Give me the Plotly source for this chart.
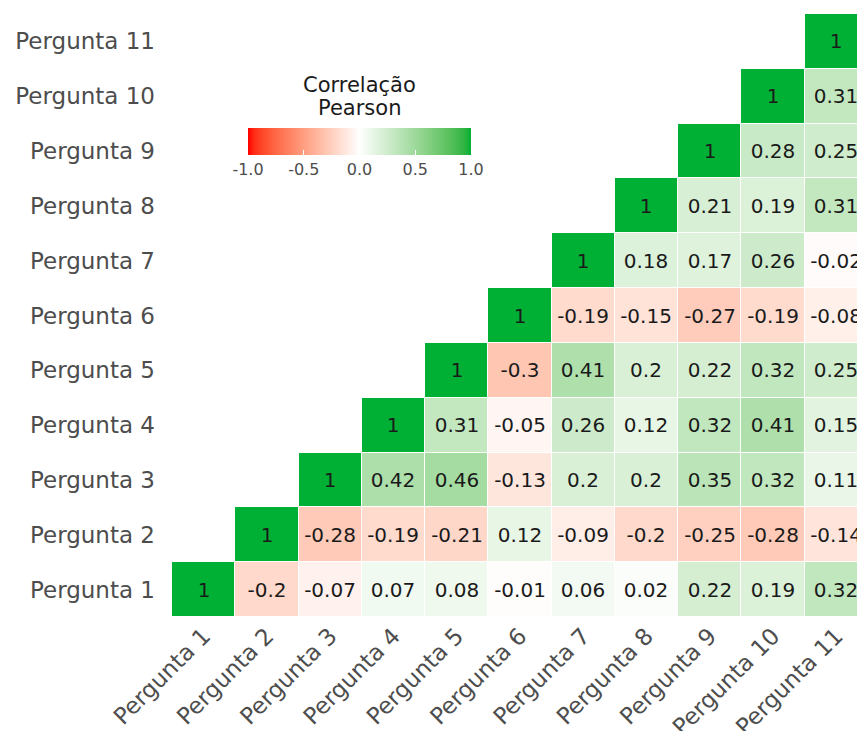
import plotly.graph_objects as go

# Questions on both axes
perguntas = [f"Pergunta {i}" for i in range(1, 12)]

# Upper-triangle Pearson correlations, one list per row (Pergunta 1..11),
# starting at the diagonal cell of that row
linha_1 = [1, -0.2, -0.07, 0.07, 0.08, -0.01, 0.06, 0.02, 0.22, 0.19, 0.32]
linha_2 = [1, -0.28, -0.19, -0.21, 0.12, -0.09, -0.2, -0.25, -0.28, -0.14]
linha_3 = [1, 0.42, 0.46, -0.13, 0.2, 0.2, 0.35, 0.32, 0.11]
linha_4 = [1, 0.31, -0.05, 0.26, 0.12, 0.32, 0.41, 0.15]
linha_5 = [1, -0.3, 0.41, 0.2, 0.22, 0.32, 0.25]
linha_6 = [1, -0.19, -0.15, -0.27, -0.19, -0.08]
linha_7 = [1, 0.18, 0.17, 0.26, -0.02]
linha_8 = [1, 0.21, 0.19, 0.31]
linha_9 = [1, 0.28, 0.25]
linha_10 = [1, 0.31]
linha_11 = [1]
linhas = [linha_1, linha_2, linha_3, linha_4, linha_5, linha_6,
          linha_7, linha_8, linha_9, linha_10, linha_11]

legend_ticks = [-1.0, -0.5, 0.0, 0.5, 1.0]

n = len(perguntas)
z = [[None] * n for _ in range(n)]
txt = [[""] * n for _ in range(n)]
for i, row in enumerate(linhas):
    for k, v in enumerate(row):
        z[i][i + k] = v
        txt[i][i + k] = f"{v:g}"


# Diverging red-white-green palette interpolated in CIELAB
def _to_lab(hexcol):
    r, g, b = (int(hexcol[j:j + 2], 16) / 255 for j in (1, 3, 5))
    lin = [c / 12.92 if c <= 0.04045 else ((c + 0.055) / 1.055) ** 2.4 for c in (r, g, b)]
    X = (0.4124 * lin[0] + 0.3576 * lin[1] + 0.1805 * lin[2]) / 0.95047
    Y = (0.2126 * lin[0] + 0.7152 * lin[1] + 0.0722 * lin[2])
    Z = (0.0193 * lin[0] + 0.1192 * lin[1] + 0.9505 * lin[2]) / 1.08883
    f = lambda t: t ** (1 / 3) if t > 0.008856 else 7.787 * t + 16 / 116
    fx, fy, fz = f(X), f(Y), f(Z)
    return (116 * fy - 16, 500 * (fx - fy), 200 * (fy - fz))


def _from_lab(L, a, b):
    fy = (L + 16) / 116
    fx = fy + a / 500
    fz = fy - b / 200
    finv = lambda t: t ** 3 if t ** 3 > 0.008856 else (t - 16 / 116) / 7.787
    X, Y, Z = finv(fx) * 0.95047, finv(fy), finv(fz) * 1.08883
    lin = (3.2406 * X - 1.5372 * Y - 0.4986 * Z,
           -0.9689 * X + 1.8758 * Y + 0.0415 * Z,
           0.0557 * X - 0.2040 * Y + 1.0570 * Z)
    out = []
    for c in lin:
        c = max(0.0, min(1.0, c))
        c = 12.92 * c if c <= 0.0031308 else 1.055 * c ** (1 / 2.4) - 0.055
        out.append(round(max(0, min(1, c)) * 255))
    return "rgb({},{},{})".format(*out)


low, mid, high = _to_lab("#FF0000"), _to_lab("#FFFFFF"), _to_lab("#00B034")
steps = 40
colorscale = []
for k in range(steps + 1):
    p = k / steps
    v = 2 * p - 1
    end = high if v >= 0 else low
    t = abs(v)
    lab = [m + (e - m) * t for m, e in zip(mid, end)]
    colorscale.append([p, _from_lab(*lab)])

W, H = 857, 731
ML, MR, MT, MB = 172, 0, 14, 114
cell_w = 63.26
x_hi = 0.5 + (W - ML - MR) / cell_w

fig = go.Figure(go.Heatmap(
    x=list(range(1, n + 1)),
    y=list(range(1, n + 1)),
    z=z,
    text=txt,
    texttemplate="%{text}",
    textfont=dict(family="DejaVu Sans", size=20, color="#1a1a1a"),
    colorscale=colorscale,
    zmin=-1, zmax=1,
    xgap=1, ygap=1,
    hoverinfo="skip",
    colorbar=dict(
        orientation="h",
        lenmode="pixels", len=223,
        thickness=27,
        x=(359.5 - ML) / (W - ML - MR), xanchor="center",
        y=1 - (128 - MT) / (H - MT - MB), yanchor="top",
        xpad=0, ypad=0,
        outlinewidth=0,
        tickvals=legend_ticks,
        ticktext=[f"{t:.1f}" for t in legend_ticks],
        ticks="inside", ticklen=5, tickwidth=1, tickcolor="white",
        tickfont=dict(family="DejaVu Sans", size=16, color="#4d4d4d"),
    ),
))

for label, ypix in (("Correlação", 85), ("Pearson", 108)):
    fig.add_annotation(
        text=label, showarrow=False,
        xref="paper", yref="paper",
        x=(359.5 - ML) / (W - ML - MR),
        y=1 - (ypix - MT) / (H - MT - MB),
        xanchor="center", yanchor="middle",
        font=dict(family="DejaVu Sans", size=21, color="#1a1a1a"),
    )

axis_font = dict(family="DejaVu Sans", size=23, color="#4d4d4d")
fig.update_xaxes(
    range=[0.5, x_hi],
    tickvals=list(range(1, n + 1)), ticktext=perguntas,
    tickangle=-45, tickfont=axis_font,
    showgrid=False, zeroline=False, showline=False, ticks="",
)
fig.update_yaxes(
    range=[0.5, n + 0.5],
    tickvals=list(range(1, n + 1)), ticktext=perguntas,
    tickfont=axis_font, ticklabelstandoff=16,
    showgrid=False, zeroline=False, showline=False, ticks="",
)
fig.update_layout(
    width=W, height=H,
    margin=dict(l=ML, r=MR, t=MT, b=MB, autoexpand=False),
    paper_bgcolor="white", plot_bgcolor="white",
    font=dict(family="DejaVu Sans"),
)

fig.write_html("out.html")
